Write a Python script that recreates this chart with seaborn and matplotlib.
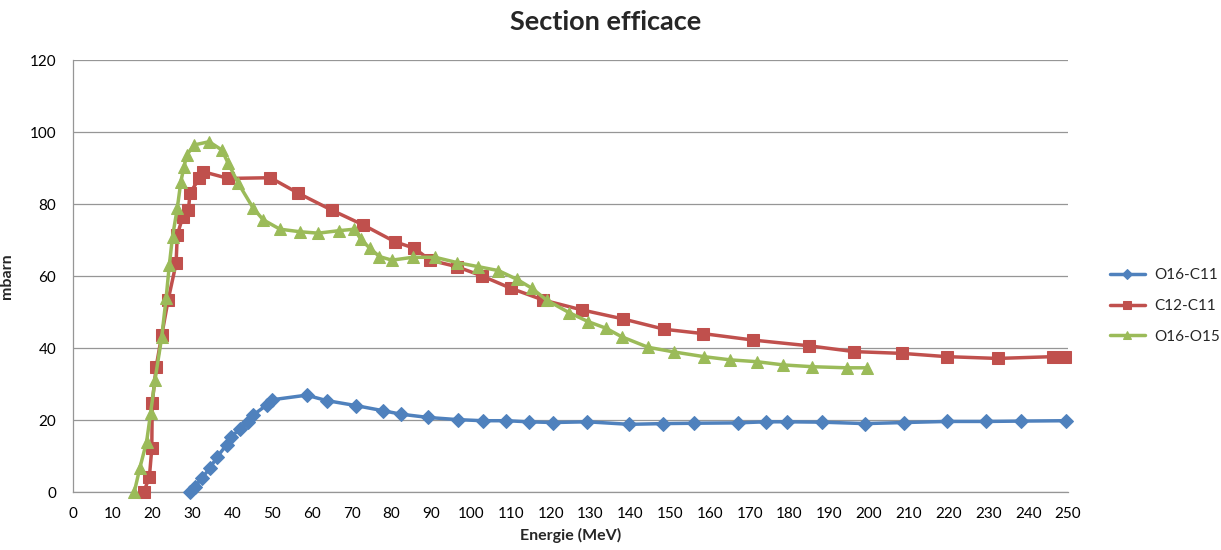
import pandas as pd
import matplotlib
matplotlib.use("Agg")
import matplotlib.pyplot as plt
import seaborn as sns

# O16-C11 (blue, diamonds)
o16_c11_energy = [29.4, 30.7, 32.3, 34.4, 36.1, 38.6, 39.6, 42.0, 44.0, 45.3, 48.7, 49.9,
                  58.7, 63.7, 71.1, 77.8, 82.5, 89.3, 96.7, 103.0, 108.9, 114.5, 120.5,
                  129.2, 139.7, 148.2, 156.0, 167.0, 174.0, 179.3, 188.2, 199.0, 208.9,
                  219.6, 229.4, 238.2, 249.5]
o16_c11_value = [0.0, 1.5, 3.8, 6.6, 9.6, 13.1, 15.4, 17.4, 19.5, 21.4, 24.2, 25.6,
                 26.9, 25.4, 24.0, 22.6, 21.6, 20.7, 20.1, 19.8, 19.8, 19.5, 19.3,
                 19.5, 18.8, 19.0, 19.1, 19.2, 19.5, 19.5, 19.4, 19.0, 19.3,
                 19.6, 19.6, 19.7, 19.8]

# C12-C11 (red, squares)
c12_c11_energy = [17.8, 19.2, 19.8, 19.9, 20.9, 22.3, 23.9, 25.9, 26.2, 27.6, 29.0, 29.4,
                  31.7, 32.6, 39.0, 49.6, 56.6, 65.0, 72.9, 80.9, 85.8, 89.7, 96.4,
                  102.8, 110.0, 118.2, 127.8, 138.1, 148.6, 158.3, 170.9, 185.0, 196.2,
                  208.4, 219.5, 232.3, 246.3, 249.2]
c12_c11_value = [0.0, 4.3, 12.1, 24.6, 34.8, 43.6, 53.3, 63.5, 71.4, 76.5, 78.3, 83.0,
                 87.1, 89.0, 87.1, 87.3, 83.0, 78.3, 74.2, 69.5, 67.7, 64.4, 62.6,
                 60.0, 56.6, 53.3, 50.6, 48.1, 45.2, 44.0, 42.2, 40.6, 39.0,
                 38.5, 37.6, 37.1, 37.6, 37.6]

# O16-O15 (green, triangles)
o16_o15_energy = [15.4, 16.8, 18.5, 19.5, 20.6, 22.3, 23.4, 24.2, 25.0, 26.2, 27.1, 27.9,
                  28.6, 30.4, 34.2, 37.4, 39.0, 41.5, 45.3, 47.8, 52.0, 57.0, 61.6,
                  66.9, 70.7, 72.3, 74.6, 77.0, 80.1, 85.4, 91.0, 96.6, 101.8, 106.9,
                  111.5, 115.3, 119.0, 124.7, 129.5, 133.9, 137.9, 144.5, 151.0, 158.5,
                  165.2, 171.8, 178.5, 185.8, 194.4, 199.4]
o16_o15_value = [0.0, 6.7, 14.0, 21.9, 31.1, 43.1, 53.9, 63.0, 70.9, 78.8, 86.2, 90.4,
                 93.6, 96.4, 97.3, 95.0, 91.3, 85.8, 78.8, 75.6, 73.0, 72.3, 71.9,
                 72.6, 73.0, 70.2, 67.7, 65.4, 64.4, 65.2, 65.2, 63.7, 62.6, 61.5,
                 59.1, 56.6, 53.3, 49.8, 47.3, 45.5, 43.1, 40.2, 38.9, 37.6,
                 36.7, 36.2, 35.3, 34.8, 34.5, 34.5]

x_ticks = list(range(0, 251, 10))
y_ticks = list(range(0, 121, 20))

series = [
    ("O16-C11", o16_c11_energy, o16_c11_value, "#4F81BD", "D", 7),
    ("C12-C11", c12_c11_energy, c12_c11_value, "#C0504D", "s", 8),
    ("O16-O15", o16_o15_energy, o16_o15_value, "#9BBB59", "^", 9),
]

sns.set_theme(style="white")
plt.rcParams["font.family"] = ["Lato", "DejaVu Sans"]

fig = plt.figure(figsize=(12.21, 5.5), dpi=100)
ax = fig.add_axes([73 / 1221, 58 / 550, 995 / 1221, 432 / 550])

for name, energy, value, color, marker, size in series:
    df = pd.DataFrame({"Energie": energy, "mbarn": value})
    sns.lineplot(
        data=df,
        x="Energie",
        y="mbarn",
        ax=ax,
        color=color,
        marker=marker,
        markersize=size,
        markeredgecolor=color,
        linewidth=2.5,
        sort=False,
        label=name,
        clip_on=False,
        zorder=3,
    )

ax.set_xlim(0, 250)
ax.set_ylim(0, 120)
ax.set_xticks(x_ticks)
ax.set_yticks(y_ticks)
ax.yaxis.grid(True, color="#969696", linewidth=0.9)
ax.xaxis.grid(False)
ax.set_axisbelow(True)

for side in ["top", "right"]:
    ax.spines[side].set_visible(False)
for side in ["left", "bottom"]:
    ax.spines[side].set_color("#969696")
    ax.spines[side].set_linewidth(0.9)

ax.tick_params(axis="both", length=0, labelsize=11, colors="black")
ax.tick_params(axis="x", pad=11)
ax.tick_params(axis="y", pad=12)

ax.set_xlabel("Energie (MeV)", fontsize=11.5, fontweight="bold", labelpad=5)
ax.set_ylabel("mbarn", fontsize=11.5, fontweight="bold", labelpad=11)

fig.text(606 / 1221, 1 - 22 / 550, "Section efficace", ha="center", va="center",
         fontsize=19.5, fontweight="bold")

handles, labels = ax.get_legend_handles_labels()
ax.get_legend().remove()
fig.legend(
    handles,
    labels,
    loc="center left",
    bbox_to_anchor=(1096 / 1221, 1 - 306 / 550),
    frameon=False,
    fontsize=11,
    labelspacing=1.1,
    handlelength=2.3,
    handletextpad=0.6,
    markerscale=0.7,
)

plt.savefig("out.png", dpi=100)
